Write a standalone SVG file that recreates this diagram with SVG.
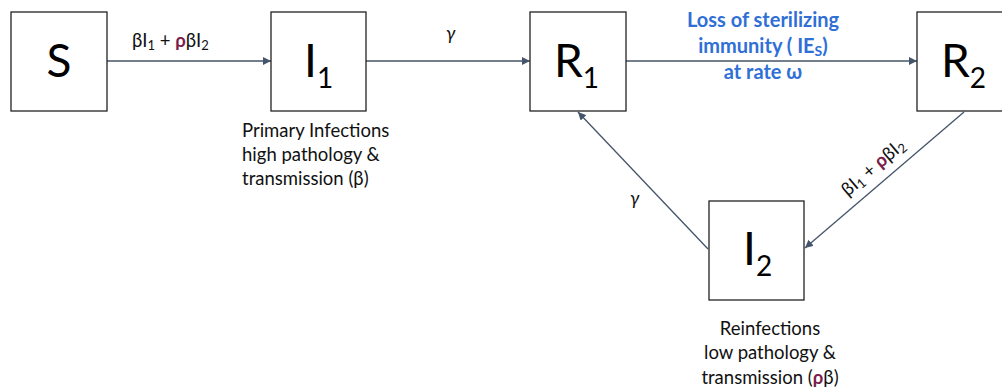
<svg xmlns="http://www.w3.org/2000/svg" width="1002" height="388" viewBox="0 0 1002 388">
<style>
.box{fill:#fff;stroke:#222;stroke-width:1.3}
.big{font-family:Lato,"Open Sans",sans-serif;font-size:46px;fill:#000}
.sub{font-size:28px}
.lbl{font-family:Lato,"Open Sans",sans-serif;font-size:18.5px;fill:#111}
.blue{font-family:Lato,"Open Sans",sans-serif;font-size:20px;font-weight:bold;fill:#2F6FD6}
.rho{fill:#7A1D4B;font-weight:bold}
.edge{stroke:#44546A;stroke-width:1.3;fill:none;marker-end:url(#ah)}
</style>
<defs>
<marker id="ah" viewBox="0 0 10 10" refX="10" refY="5" markerWidth="8" markerHeight="8" markerUnits="userSpaceOnUse" orient="auto">
<path d="M0,0 L10,5 L0,10 z" fill="#44546A"/>
</marker>
</defs>
<rect width="1002" height="388" fill="#fff"/>
<g id="connectors">
<line class="edge" x1="107" y1="61" x2="271" y2="61"/>
<line class="edge" x1="366" y1="61" x2="530" y2="61"/>
<line class="edge" x1="626" y1="61" x2="917" y2="61"/>
<line class="edge" x1="964" y1="112" x2="805" y2="248"/>
<line class="edge" x1="708" y1="249" x2="578" y2="112"/>
<text class="lbl" x="132" y="47">βI<tspan font-size="13" dy="3">1</tspan><tspan dy="-3"> + </tspan><tspan class="rho">ρ</tspan>βI<tspan font-size="13" dy="3">2</tspan></text>
<text class="lbl" x="446" y="40" font-style="italic">γ</text>
<text class="lbl" x="630" y="205" font-style="italic">γ</text>
<text class="blue" text-anchor="middle"><tspan x="763" y="27">Loss of sterilizing</tspan><tspan x="763" y="53">immunity ( IE<tspan font-size="14" dy="3">S</tspan><tspan dy="-3">)</tspan></tspan><tspan x="763" y="79">at rate ω</tspan></text>
<text class="lbl" transform="translate(877,172) rotate(-40.5)" text-anchor="middle">βI<tspan font-size="13" dy="3">1</tspan><tspan dy="-3"> + </tspan><tspan class="rho">ρ</tspan>βI<tspan font-size="13" dy="3">2</tspan></text>
</g>
<g id="S">
<rect class="box" x="11" y="12" width="96" height="99"/>
<text class="big" x="59" y="77" text-anchor="middle">S</text>
</g>
<g id="I1">
<rect class="box" x="271" y="12" width="95" height="99"/>
<text class="big" x="304" y="77">I<tspan class="sub" dy="11">1</tspan></text>
<text class="lbl"><tspan x="242" y="137">Primary Infections</tspan><tspan x="242" y="161">high pathology &amp;</tspan><tspan x="242" y="185">transmission (β)</tspan></text>
</g>
<g id="R1">
<rect class="box" x="530" y="12" width="96" height="99"/>
<text class="big" x="554" y="77">R<tspan class="sub" dy="11">1</tspan></text>
</g>
<g id="R2">
<rect class="box" x="917" y="12" width="86" height="99"/>
<text class="big" x="941" y="77">R<tspan class="sub" dy="11">2</tspan></text>
</g>
<g id="I2">
<rect class="box" x="709" y="201" width="95" height="99"/>
<text class="big" x="743" y="265">I<tspan class="sub" dy="11">2</tspan></text>
<text class="lbl" text-anchor="middle"><tspan x="770" y="335">Reinfections</tspan><tspan x="770" y="359">low pathology &amp;</tspan><tspan x="770" y="384">transmission (<tspan class="rho">ρ</tspan>β)</tspan></text>
</g>
</svg>
